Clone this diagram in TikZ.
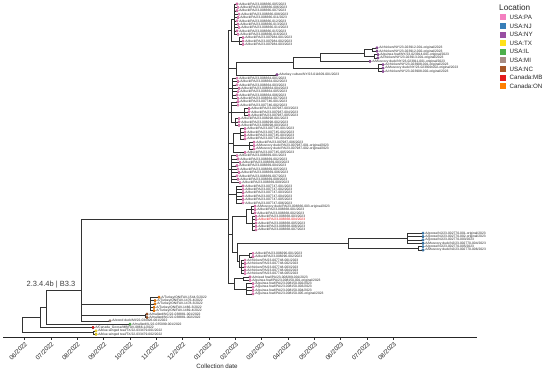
\documentclass[tikz,border=0pt]{standalone}
\usepackage{fontspec}
\setmainfont{Liberation Sans}
\definecolor{cPA}{HTML}{F47FC0}
\definecolor{cNJ}{HTML}{377EB8}
\definecolor{cNY}{HTML}{984EA3}
\definecolor{cTX}{HTML}{FFE11A}
\definecolor{cIL}{HTML}{4DAF4A}
\definecolor{cMI}{HTML}{A88D85}
\definecolor{cNC}{HTML}{A65628}
\definecolor{cMB}{HTML}{E41A1C}
\definecolor{cON}{HTML}{FF7F00}
\tikzset{
  br/.style={draw=black!80, line width=0.45pt},
  mk/.style={circle, inner sep=0pt, minimum size=2.7pt, line width=0.25pt},
  lab/.style={inner sep=0pt, font=\fontsize{3.3}{3.4}\selectfont, text=black!85, anchor=west},
  datel/.style={rotate=45, anchor=north east, inner sep=0.5pt, font=\fontsize{6.2}{7}\selectfont, text=black!85},
}
\newcommand{\leafnode}[4]{%
  \node[mk, fill=#3, draw=#3!70!black] (l#1) at (#2,{4+3.37*#1}) {};
  \node[lab] (t#1) at ([xshift=0.7pt]l#1.east) {#4};}
\newcommand{\edgesto}[2]{\foreach \xx in {#2} {\draw[br] (#1) |- (\xx);}}
\newcommand{\edgerange}[3]{\foreach \xx in {#2,...,#3} {\draw[br] (#1) |- (l\xx);}}
\newcommand{\mytick}[2]{%
  \coordinate (k#1) at ({24.5+26.35*#1},337.7);
  \draw[br] (k#1) -- ++(0,1.8);
  \node[datel] (d#1) at ([yshift=-2.8pt]k#1) {#2};}
\newcommand{\legitem}[3]{%
  \node[fill=#2, minimum size=6pt, inner sep=0pt] (g#1) at (503,{17.3+8.6*#1}) {};
  \node[font=\fontsize{6.2}{7}\selectfont, anchor=west, inner sep=0pt, text=black!85] (gt#1) at (509.5,{17.3+8.6*#1}) {#3};}
\begin{document}
\begin{tikzpicture}[x=1pt,y=-1pt]
\useasboundingbox (0,0) rectangle (550,373);
\fill[white] (0,0) rectangle (550,373);
% ---------------- leaves ----------------
\leafnode{0}{237}{cPA}{A/duck/PA/23-008366-005/2023}
\leafnode{1}{238}{cPA}{A/duck/PA/23-008366-006/2023}
\leafnode{2}{237}{cPA}{A/duck/PA/23-008366-007/2023}
\leafnode{3}{239}{cPA}{A/duck/PA/23-008366-008/2023}
\leafnode{4}{238}{cPA}{A/duck/PA/23-008366-011/2023}
\leafnode{5}{237}{cPA}{A/duck/PA/23-008366-012/2023}
\leafnode{6}{238}{cPA}{A/duck/PA/23-008366-013/2023}
\leafnode{7}{239}{cPA}{A/duck/PA/23-008366-014/2023}
\leafnode{8}{237}{cPA}{A/duck/PA/23-008366-015/2023}
\leafnode{9}{238}{cPA}{A/duck/PA/23-008366-016/2023}
\leafnode{10}{243}{cPA}{A/duck/PA/23-007984-001/2023}
\leafnode{11}{243}{cPA}{A/duck/PA/23-007984-002/2023}
\leafnode{12}{243}{cPA}{A/duck/PA/23-007984-003/2023}
\leafnode{13}{377}{cNY}{A/chicken/NY/23-023912-001-original/2023}
\leafnode{14}{377}{cNY}{A/chicken/NY/23-023912-002-original/2023}
\leafnode{15}{378}{cNY}{A/guinea fowl/NY/23-023914-001-original/2023}
\leafnode{16}{378}{cNY}{A/chicken/NY/23-023913-001-original/2023}
\leafnode{17}{370}{cNY}{A/Muscovy duck/NY/23-023911-001-original/2023}
\leafnode{18}{383}{cNY}{A/chicken/NY/23-023908-001-original/2023}
\leafnode{19}{383}{cNY}{A/Muscovy duck/NY/23-023909-002-original/2023}
\leafnode{20}{383}{cNY}{A/chicken/NY/23-023908-002-original/2023}
\leafnode{21}{277}{cNY}{A/turkey culture/NY/23-011609-001/2023}
\leafnode{22}{237}{cPA}{A/duck/PA/23-008364-001/2023}
\leafnode{23}{238}{cPA}{A/duck/PA/23-008364-002/2023}
\leafnode{24}{237}{cPA}{A/duck/PA/23-008364-003/2023}
\leafnode{25}{239}{cPA}{A/duck/PA/23-008364-004/2023}
\leafnode{26}{238}{cPA}{A/duck/PA/23-008364-005/2023}
\leafnode{27}{237}{cPA}{A/duck/PA/23-008364-006/2023}
\leafnode{28}{238}{cPA}{A/duck/PA/23-008364-007/2023}
\leafnode{29}{238}{cPA}{A/duck/PA/23-007746-001/2023}
\leafnode{30}{238}{cPA}{A/duck/PA/23-007746-002/2023}
\leafnode{31}{249}{cPA}{A/duck/PA/23-007987-003/2023}
\leafnode{32}{249}{cPA}{A/duck/PA/23-007987-004/2023}
\leafnode{33}{249}{cPA}{A/duck/PA/23-007987-005/2023}
\leafnode{34}{239}{cPA}{A/duck/PA/23-008298-001/2023}
\leafnode{35}{239}{cPA}{A/duck/PA/23-008298-002/2023}
\leafnode{36}{239}{cPA}{A/duck/PA/23-008298-003/2023}
\leafnode{37}{245}{cPA}{A/duck/PA/23-007745-001/2023}
\leafnode{38}{245}{cPA}{A/duck/PA/23-007745-002/2023}
\leafnode{39}{245}{cPA}{A/duck/PA/23-007745-003/2023}
\leafnode{40}{245}{cPA}{A/duck/PA/23-007745-004/2023}
\leafnode{41}{254}{cPA}{A/duck/PA/23-007987-006/2023}
\leafnode{42}{254}{cPA}{A/Muscovy duck/PA/23-007987-001-original/2023}
\leafnode{43}{254}{cPA}{A/Muscovy duck/PA/23-007987-002-original/2023}
\leafnode{44}{245}{cPA}{A/duck/PA/23-007745-005/2023}
\leafnode{45}{237}{cPA}{A/duck/PA/23-008369-001/2023}
\leafnode{46}{238}{cPA}{A/duck/PA/23-008369-002/2023}
\leafnode{47}{240}{cPA}{A/duck/PA/23-008369-003/2023}
\leafnode{48}{237}{cPA}{A/duck/PA/23-008369-004/2023}
\leafnode{49}{238}{cPA}{A/duck/PA/23-008369-005/2023}
\leafnode{50}{239}{cPA}{A/duck/PA/23-008369-006/2023}
\leafnode{51}{237}{cPA}{A/duck/PA/23-008369-007/2023}
\leafnode{52}{238}{cPA}{A/duck/PA/23-008369-008/2023}
\leafnode{53}{240}{cPA}{A/duck/PA/23-008369-009/2023}
\leafnode{54}{243}{cPA}{A/duck/PA/23-007747-001/2023}
\leafnode{55}{243}{cPA}{A/duck/PA/23-007747-002/2023}
\leafnode{56}{243}{cPA}{A/duck/PA/23-007747-003/2023}
\leafnode{57}{243}{cPA}{A/duck/PA/23-007747-004/2023}
\leafnode{58}{243}{cPA}{A/duck/PA/23-007747-005/2023}
\leafnode{59}{243}{cPA}{A/duck/PA/23-007747-006/2023}
\leafnode{60}{255}{cPA}{A/Muscovy duck/PA/23-008366-003-original/2023}
\leafnode{61}{255}{cPA}{A/duck/PA/23-008368-001/2023}
\leafnode{62}{255}{cPA}{A/duck/PA/23-008368-002/2023}
\leafnode{63}{256}{cPA}{A/duck/PA/23-008368-003/2023}
\leafnode{64}{256}{cPA}{\textcolor{cMB}{A/duck/PA/23-008368-004/2023}}
\leafnode{65}{256}{cPA}{A/duck/PA/23-008368-005/2023}
\leafnode{66}{256}{cPA}{A/duck/PA/23-008368-006/2023}
\leafnode{67}{256}{cPA}{A/duck/PA/23-008368-007/2023}
\leafnode{68}{423}{cNJ}{A/goose/NJ/23-002770-001-original/2023}
\leafnode{69}{423}{cNJ}{A/goose/NJ/23-002770-002-original/2023}
\leafnode{70}{423}{cNJ}{A/goose/NJ/23-002770-003/2023}
\leafnode{71}{423}{cNJ}{A/Muscovy duck/NJ/23-002770-004/2023}
\leafnode{72}{423}{cNJ}{A/goose/NJ/23-002770-005/2023}
\leafnode{73}{423}{cNJ}{A/Muscovy duck/NJ/23-002770-006/2023}
\leafnode{74}{253}{cPA}{A/duck/PA/23-008296-001/2023}
\leafnode{75}{253}{cPA}{A/duck/PA/23-008296-002/2023}
\leafnode{76}{245}{cPA}{A/chicken/PA/23-007748-001/2023}
\leafnode{77}{245}{cPA}{A/chicken/PA/23-007748-002/2023}
\leafnode{78}{245}{cPA}{A/chicken/PA/23-007748-003/2023}
\leafnode{79}{245}{cPA}{A/chicken/PA/23-007748-004/2023}
\leafnode{80}{245}{cPA}{A/chicken/PA/23-007748-005/2023}
\leafnode{81}{250}{cPA}{A/mixed fowl/PA/23-008289-001/2023}
\leafnode{82}{250}{cPA}{A/guinea fowl/PA/23-008150-001-original/2023}
\leafnode{83}{253}{cPA}{A/guinea fowl/PA/23-008150-002/2023}
\leafnode{84}{253}{cPA}{A/guinea fowl/PA/23-008150-003/2023}
\leafnode{85}{253}{cPA}{A/guinea fowl/PA/23-008150-004/2023}
\leafnode{86}{253}{cPA}{A/guinea fowl/PA/23-008150-005-original/2023}
\leafnode{87}{159}{cON}{A/Turkey/ON/FAV-1544-5/2022}
\leafnode{88}{155}{cON}{A/Turkey/ON/FAV-1476-4/2022}
\leafnode{89}{155}{cON}{A/Turkey/ON/FAV-1478-3/2022}
\leafnode{90}{154}{cON}{A/Turkey/ON/FAV-1466-3/2022}
\leafnode{91}{154}{cON}{A/Turkey/ON/FAV-1469-4/2022}
\leafnode{92}{147}{cNC}{A/mallard/NC/22-038881-001/2022}
\leafnode{93}{147}{cNC}{A/mallard/NC/22-038881-002/2022}
\leafnode{94}{110}{cMI}{A/wood duck/MI/22-034926-001/2022}
\leafnode{95}{130}{cIL}{A/mallard/IL/22-035099-001/2022}
\leafnode{96}{93}{cMB}{A/Canada\_Goose/MB/FAV-0866-1/2022}
\leafnode{97}{96}{cTX}{A/blue-winged teal/TX/22-033479-001/2022}
\leafnode{98}{96}{cTX}{A/blue-winged teal/TX/22-033479-002/2022}
% ---------------- internal nodes ----------------
\coordinate (root) at (22,325.4);
\coordinate (nA) at (40,317);
\coordinate (nB) at (46,307);
\coordinate (nC) at (81,290);
\coordinate (nTX) at (93,332.6);
\coordinate (nON) at (150,303.9);
\coordinate (nNC) at (145,315.7);
\coordinate (nP) at (228,219);
\coordinate (nA1) at (231,30.1);
\coordinate (nA2) at (234,19.2);
\coordinate (nA3) at (239,41.1);
\coordinate (nU) at (236,68.7);
\coordinate (nQ) at (293,62.6);
\coordinate (nR) at (320,57.1);
\coordinate (nS) at (364,52.9);
\coordinate (nS1) at (372,49.5);
\coordinate (nS2) at (374,56.2);
\coordinate (nT) at (378,68.0);
\coordinate (nG1) at (232,88.3);
\coordinate (nG2) at (231,111.8);
\coordinate (nG2a) at (244,111.8);
\coordinate (nG2b) at (235,122.0);
\coordinate (nG3) at (233,143.0);
\coordinate (nG3a) at (249,145.5);
\coordinate (nG3b) at (240,133.7);
\coordinate (nG4) at (231,169.1);
\coordinate (nG5) at (236,194.4);
\coordinate (nV) at (232,234.2);
\coordinate (nG6) at (246,216.3);
\coordinate (nG6a) at (251,209.6);
\coordinate (nG6b) at (252,223.1);
\coordinate (nW) at (237,252.1);
\coordinate (nN) at (348,243.3);
\coordinate (nN1) at (407,238.2);
\coordinate (nN2) at (418,248.3);
\coordinate (nG7) at (239,261.0);
\coordinate (nG7a) at (249,255.1);
\coordinate (nG7b) at (241,266.9);
\coordinate (nG8) at (234,283.7);
\coordinate (nG8a) at (243,278.7);
\coordinate (nG8b) at (246,288.8);
% ---------------- branches ----------------
\edgesto{root}{nA,nTX}
\edgesto{nA}{nB,l96}
\edgesto{nB}{nC,l95}
\edgesto{nC}{nP,nON,nNC,l94}
\edgesto{nTX}{l97,l98}
\edgerange{nON}{87}{91}
\edgerange{nNC}{92}{93}
\edgesto{nP}{nA1,nU,nG1,nG2,nG3,nG4,nG5,nV,nG8}
\edgesto{nA1}{nA2,nA3}
\edgerange{nA2}{0}{9}
\edgerange{nA3}{10}{12}
\edgesto{nU}{nQ,l21}
\edgesto{nQ}{nR,nT}
\edgesto{nR}{nS,l17}
\edgesto{nS}{nS1,nS2}
\edgerange{nS1}{13}{14}
\edgerange{nS2}{15}{16}
\edgerange{nT}{18}{20}
\edgerange{nG1}{22}{28}
\edgesto{nG2}{l29,l30,nG2a,nG2b}
\edgerange{nG2a}{31}{33}
\edgerange{nG2b}{34}{36}
\edgesto{nG3}{nG3b,nG3a,l44}
\edgerange{nG3b}{37}{40}
\edgerange{nG3a}{41}{43}
\edgerange{nG4}{45}{53}
\edgerange{nG5}{54}{59}
\edgesto{nV}{nG6,nW}
\edgesto{nG6}{nG6a,nG6b}
\edgerange{nG6a}{60}{62}
\edgerange{nG6b}{63}{67}
\edgesto{nW}{nN,nG7}
\edgesto{nN}{nN1,nN2}
\edgerange{nN1}{68}{71}
\edgerange{nN2}{72}{73}
\edgesto{nG7}{nG7a,nG7b}
\edgerange{nG7a}{74}{75}
\edgerange{nG7b}{76}{80}
\edgesto{nG8}{nG8a,nG8b}
\edgerange{nG8a}{81}{82}
\edgerange{nG8b}{83}{86}
% ---------------- clade label ----------------
\node[font=\fontsize{7.5}{8}\selectfont, text=black!75, anchor=base, inner sep=0pt] (clade) at (51,286) {2.3.4.4b | B3.3};
% ---------------- axis ----------------
\coordinate (ax0) at (3,337.7);
\coordinate (ax1) at (477,337.7);
\draw[black!85, line width=0.6pt] (ax0) -- (ax1);
\mytick{0}{06/2022}
\mytick{1}{07/2022}
\mytick{2}{08/2022}
\mytick{3}{09/2022}
\mytick{4}{10/2022}
\mytick{5}{11/2022}
\mytick{6}{12/2022}
\mytick{7}{01/2023}
\mytick{8}{02/2023}
\mytick{9}{03/2023}
\mytick{10}{04/2023}
\mytick{11}{05/2023}
\mytick{12}{06/2023}
\mytick{13}{07/2023}
\mytick{14}{08/2023}
\node[font=\fontsize{6.2}{7}\selectfont, text=black!85] (xtitle) at (217,366) {Collection date};
% ---------------- legend ----------------
\node[font=\fontsize{8.2}{9}\selectfont, anchor=west, inner sep=0pt, text=black!85] (lgtitle) at (499,7.5) {Location};
\legitem{0}{cPA}{USA:PA}
\legitem{1}{cNJ}{USA:NJ}
\legitem{2}{cNY}{USA:NY}
\legitem{3}{cTX}{USA:TX}
\legitem{4}{cIL}{USA:IL}
\legitem{5}{cMI}{USA:MI}
\legitem{6}{cNC}{USA:NC}
\legitem{7}{cMB}{Canada:MB}
\legitem{8}{cON}{Canada:ON}
\end{tikzpicture}
\end{document}
